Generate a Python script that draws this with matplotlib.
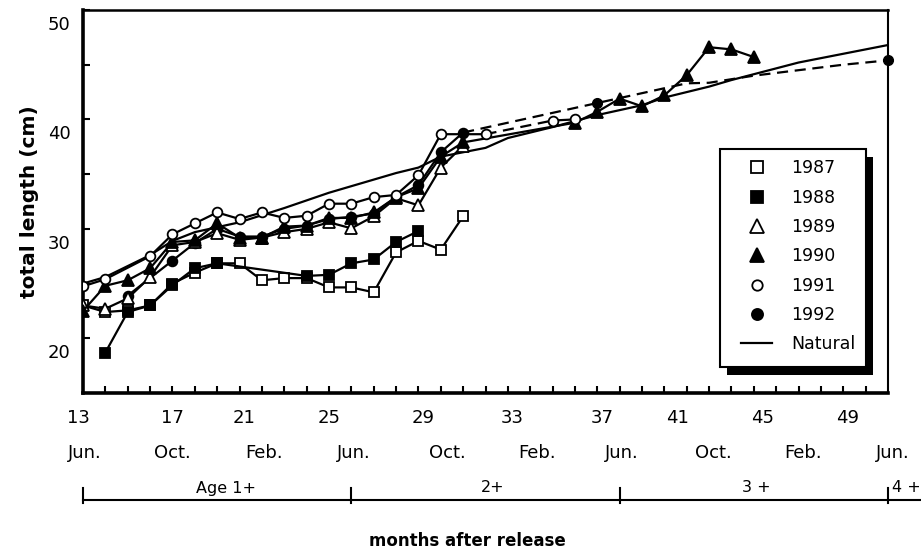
import matplotlib
matplotlib.use("Agg")
import matplotlib.pyplot as plt
from matplotlib.lines import Line2D
from matplotlib.patches import Rectangle
from matplotlib.transforms import ScaledTranslation

plt.rcParams['font.family'] = ['DejaVu Sans']

# ---- data (months after release, total length cm) ----
m87 = [13, 14, 15, 16, 17, 18, 19, 20, 21, 22, 23, 24, 25, 26, 27, 28, 29, 30]
v87 = [23.0, 22.4, 22.55, 23.0, 25.0, 26.0, 26.85, 26.85, 25.3, 25.5, 25.5,
       24.65, 24.65, 24.2, 27.85, 28.9, 28.1, 31.15]

m88 = [14, 15, 16, 17, 18, 19, 23, 24, 25, 26, 27, 28]
v88 = [18.7, 22.4, 23.0, 24.85, 26.4, 26.85, 25.7, 25.8, 26.85, 27.2, 28.8, 29.8]

m89 = [13, 14, 15, 16, 17, 18, 19, 20, 21, 22, 23, 24, 25, 26, 27, 28, 29, 30]
v89 = [23.0, 22.7, 23.65, 25.6, 28.5, 28.8, 29.6, 29.0, 29.2, 29.7, 30.0,
       30.6, 30.05, 31.15, 32.8, 32.15, 35.6, 37.6]

m90 = [13, 14, 15, 16, 17, 18, 19, 20, 21, 22, 23, 24, 25, 26, 27, 28, 29, 30,
       35, 36, 37, 38, 39, 40, 41, 42, 43]
v90 = [22.5, 24.8, 25.3, 26.4, 28.8, 28.95, 30.5, 29.2, 29.2, 30.2, 30.3,
       31.0, 31.0, 31.5, 32.9, 33.7, 36.6, 37.9, 39.7, 40.7, 41.9, 41.2,
       42.2, 44.05, 46.6, 46.4, 45.7]

m91 = [13, 14, 16, 17, 18, 19, 20, 21, 22, 23, 24, 25, 26, 27, 28, 29, 31]
v91 = [24.75, 25.4, 27.5, 29.5, 30.5, 31.5, 30.9, 31.5, 31.0, 31.2, 32.3,
       32.3, 32.9, 33.1, 34.9, 38.65, 38.65]
m91_late = [34, 35]
v91_late = [39.9, 40.0]

m92 = [15, 17, 18, 19, 20, 21, 22, 23, 24, 25, 26, 27, 28, 29, 30]
v92 = [23.9, 27.1, 28.7, 30.0, 29.3, 29.3, 30.0, 30.3, 30.9, 31.1, 31.4,
       32.9, 34.0, 37.0, 38.8]
m92_late = [36, 40, 41, 43, 45, 47, 49]
v92_late = [41.5, 43.3, 43.35, 44.0, 44.5, 45.0, 45.4]

m_nat = [13, 14, 16, 17, 18, 20, 22, 24, 26, 27, 28, 29, 31, 32, 34, 36, 38,
         39, 41, 42, 45, 49]
v_nat = [25.0, 25.6, 27.6, 28.9, 29.7, 30.6, 31.9, 33.3, 34.5, 35.1, 35.6,
         36.6, 37.4, 38.3, 39.3, 40.4, 41.3, 42.0, 43.0, 43.6, 45.2, 46.8]

years = ['1987', '1988', '1989', '1990', '1991', '1992']
num_labels = ['13', '17', '21', '25', '29', '33', '37', '41', '45', '49']
month_labels = ['Jun.', 'Oct.', 'Feb.', 'Jun.', 'Oct.', 'Feb.', 'Jun.',
                'Oct.', 'Feb.', 'Jun.']
age_labels = ['Age 1+', '2+', '3 +', '4 +']

# label placement (the printed numbers sit a bit off the tick marks)
num_label_pos = [12.8, 17.0, 20.2, 24.0, 28.2, 32.2, 36.2, 39.6, 43.4, 47.2]
month_label_pos = [13.1, 17.0, 21.1, 25.1, 29.3, 33.3, 37.1, 41.2, 45.2, 49.2]
age_bounds = [13, 25, 37, 49]
age_label_pos = [19.4, 31.3, 43.1, 49.8]

fig = plt.figure(figsize=(9.21, 5.53), dpi=100)
W, H = 921, 553
ax = fig.add_axes([83 / W, 1 - 393 / H, (888 - 83) / W, (393 - 10) / H])

lw = 1.6
mk = dict(color='black', lw=lw, mew=1.3, mec='black')

ax.plot(m87, v87, marker='s', ms=7, mfc='white', **mk, zorder=3)
ax.plot(m88, v88, marker='s', ms=7, mfc='black', **mk, zorder=3)
ax.plot(m92, v92, marker='o', ms=7, mfc='black', **mk, zorder=3)
ax.plot(m89, v89, marker='^', ms=8.5, mfc='white', **mk, zorder=3)
ax.plot(m90, v90, marker='^', ms=8.5, mfc='black', **mk, zorder=3)
ax.plot(m91, v91, marker='o', ms=7, mfc='white', **mk, zorder=3)
ax.plot(m91_late, v91_late, marker='o', ms=7, mfc='white', **mk, zorder=3)
# gaps bridged with dashes
ax.plot([m91[-1], m91_late[0]], [v91[-1], v91_late[0]], color='black', lw=lw,
        ls=(0, (5, 3)), zorder=2)
ax.plot([m92[-1]] + m92_late, [v92[-1]] + v92_late, color='black', lw=lw,
        ls=(0, (5, 3)), zorder=2)
ax.plot([m92_late[0], m92_late[-1]], [v92_late[0], v92_late[-1]], ls='none',
        marker='o', ms=7, mfc='black', mec='black', zorder=4, clip_on=False)
ax.plot(m_nat, v_nat, color='black', lw=lw, zorder=2)

ax.set_xlim(13, 49)
ax.set_ylim(15, 50)

for side in ['left', 'bottom']:
    ax.spines[side].set_linewidth(2.6)
ax.spines['top'].set_linewidth(1.8)
ax.spines['right'].set_linewidth(1.5)

ax.set_xticks(range(14, 49))
ax.set_xticklabels([])
ax.tick_params(axis='x', direction='in', length=5, width=1.5)
ax.set_yticks([20, 30, 40, 50])
ax.set_yticks([25, 35, 45], minor=True)
ax.tick_params(axis='y', which='both', direction='in', length=5, width=1.5,
               labelsize=13, pad=9)
off = ScaledTranslation(0, -13 / 100, fig.dpi_scale_trans)
for lab in ax.get_yticklabels():
    lab.set_transform(lab.get_transform() + off)

ax.set_ylabel('total length (cm)', fontsize=14.5, fontweight='bold', labelpad=6)

tr = ax.get_xaxis_transform()
def below(px):
    return -px / 383.0

for x, t in zip(num_label_pos, num_labels):
    ax.text(x, below(25), t, transform=tr, ha='center', va='center',
            fontsize=13, clip_on=False)
for x, t in zip(month_label_pos, month_labels):
    ax.text(x, below(60), t, transform=tr, ha='center', va='center',
            fontsize=13, clip_on=False)

# age bar
ax.plot([age_bounds[0], 50.5], [below(107), below(107)], transform=tr,
        color='black', lw=1.5, clip_on=False)
for b in age_bounds:
    ax.plot([b, b], [below(95), below(110)], transform=tr, color='black',
            lw=1.5, clip_on=False)
for x, t in zip(age_label_pos, age_labels):
    ax.text(x, below(95), t, transform=tr, ha='center', va='center',
            fontsize=11.5, clip_on=False)

ax.text(0.478, below(148), 'months after release', transform=ax.transAxes,
        ha='center', va='center', fontsize=12, fontweight='bold')

# legend: frame and solid black drop shadow drawn by hand
handles = [
    Line2D([], [], ls='none', marker='s', ms=8, mfc='white', mec='black', mew=1.3),
    Line2D([], [], ls='none', marker='s', ms=8, mfc='black', mec='black', mew=1.3),
    Line2D([], [], ls='none', marker='^', ms=9.5, mfc='white', mec='black', mew=1.3),
    Line2D([], [], ls='none', marker='^', ms=9.5, mfc='black', mec='black', mew=1.3),
    Line2D([], [], ls='none', marker='o', ms=7.5, mfc='white', mec='black', mew=1.3),
    Line2D([], [], ls='none', marker='o', ms=8, mfc='black', mec='black', mew=1.3),
    Line2D([], [], color='black', lw=lw),
]
leg = ax.legend(handles, years + ['Natural'], loc='upper left',
                bbox_to_anchor=(0.805, 0.637), fontsize=12.5, frameon=False,
                labelspacing=0.65, handlelength=1.75, handletextpad=1.1,
                borderpad=0.6, borderaxespad=0)
leg.set_zorder(7)

fig.canvas.draw()
bb = leg.get_window_extent()
fx0, fy0 = bb.x0 - 11, bb.y0 - 3
fw, fh = bb.width + 11, bb.height + 3
ax.add_patch(Rectangle((fx0 + 7, fy0 - 8), fw, fh, transform=None,
                       facecolor='black', edgecolor='none', clip_on=False,
                       zorder=5.5))
ax.add_patch(Rectangle((fx0, fy0), fw, fh, transform=None, facecolor='white',
                       edgecolor='black', lw=1.5, clip_on=False, zorder=6))

fig.savefig('out.png', dpi=100)
